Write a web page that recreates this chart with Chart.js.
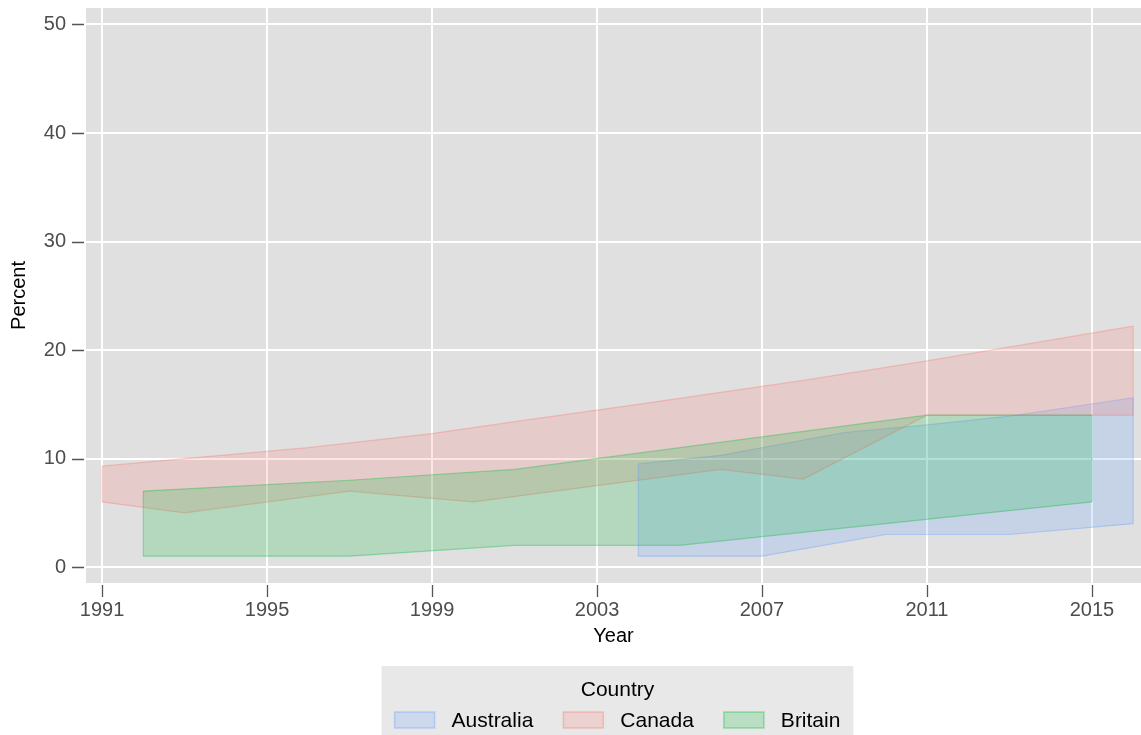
<!DOCTYPE html>
<html>
<head>
<meta charset="utf-8">
<script src="https://cdn.jsdelivr.net/npm/chart.js@4/dist/chart.umd.min.js"></script>
<style>
  html, body { margin: 0; padding: 0; background: #fff; }
  #wrap { width: 1141px; height: 735px; position: relative; }
</style>
</head>
<body>
<div id="wrap"><canvas id="chart"></canvas></div>
<script>
/* Country ranges of percent by year: ribbon (lower/upper) per country */

const xTicks = [1991, 1995, 1999, 2003, 2007, 2011, 2015];
const yTicks = [0, 10, 20, 30, 40, 50];

const countries = ["Australia", "Canada", "Britain"];
const colors = ["97, 156, 255", "248, 118, 109", "0, 186, 56"];

const ausLowYears = [2004, 2007, 2010, 2013, 2016];
const ausLow = [1.0, 1.0, 3.0, 3.0, 4.0];
const ausHighYears = [2004, 2006, 2009, 2011, 2013, 2016];
const ausHigh = [9.5, 10.3, 12.4, 13.1, 13.9, 15.6];

const canLowYears = [1991, 1993, 1997, 2000, 2006, 2008, 2011, 2016];
const canLow = [6.0, 5.0, 7.0, 6.0, 9.0, 8.1, 14.0, 14.0];
const canHighYears = [1991, 1993, 1996, 1999, 2001, 2004, 2008, 2011, 2016];
const canHigh = [9.3, 10.0, 11.0, 12.3, 13.4, 15.0, 17.2, 19.0, 22.2];

const gbLowYears = [1992, 1997, 2001, 2005, 2015];
const gbLow = [1.0, 1.0, 2.0, 2.0, 6.0];
const gbHighYears = [1992, 1997, 2001, 2011, 2015];
const gbHigh = [7.0, 8.0, 9.0, 14.0, 14.0];

const FONT = "'Liberation Sans', Arial, Helvetica, sans-serif";
Chart.defaults.font.family = FONT;

const pts = (xs, ys) => xs.map((x, i) => ({ x, y: ys[i] }));
const fillC = (c) => `rgba(${c}, 0.2)`;
const lineC = (c) => `rgba(${c}, 0.35)`;

function band(name, c, lowX, low, highX, high) {
  const base = { type: "line", pointRadius: 0, pointHoverRadius: 0, borderWidth: 1.2, tension: 0, borderColor: lineC(c) };
  return [
    { ...base, label: name + " low", data: pts(lowX, low), fill: false, band: name },
    { ...base, label: name, data: pts(highX, high), fill: "-1", backgroundColor: fillC(c), band: name },
  ];
}

// Britain first so it ends up on top (Chart.js draws index 0 last)
const datasets = [
  ...band("Britain", colors[2], gbLowYears, gbLow, gbHighYears, gbHigh),
  ...band("Canada", colors[1], canLowYears, canLow, canHighYears, canHigh),
  ...band("Australia", colors[0], ausLowYears, ausLow, ausHighYears, ausHigh),
];

// grey panel behind the plot
const panelPlugin = {
  id: "panel",
  beforeDraw(chart) {
    const { ctx, chartArea: a } = chart;
    ctx.save();
    ctx.fillStyle = "#e0e0e0";
    ctx.fillRect(a.left, a.top, a.right - a.left, a.bottom - a.top);
    ctx.restore();
  },
};

// tick marks sit slightly off the panel edge
const tickMarkPlugin = {
  id: "tickMarks",
  afterDraw(chart) {
    const { ctx, chartArea: a, scales } = chart;
    ctx.save();
    ctx.strokeStyle = "#555";
    ctx.lineWidth = 1.3;
    ctx.beginPath();
    xTicks.forEach((v) => {
      const px = Math.round(scales.x.getPixelForValue(v)) + 0.5;
      ctx.moveTo(px, a.bottom + 2);
      ctx.lineTo(px, a.bottom + 14);
    });
    yTicks.forEach((v) => {
      const py = Math.round(scales.y.getPixelForValue(v)) + 0.5;
      ctx.moveTo(a.left - 2, py);
      ctx.lineTo(a.left - 14, py);
    });
    ctx.stroke();
    ctx.restore();
  },
};

// close ribbon ends with vertical edges
const ribbonEdgePlugin = {
  id: "ribbonEdges",
  afterDatasetsDraw(chart) {
    const ctx = chart.ctx;
    ctx.save();
    for (let i = 0; i < chart.data.datasets.length; i += 2) {
      const lo = chart.getDatasetMeta(i).data;
      const hi = chart.getDatasetMeta(i + 1).data;
      ctx.strokeStyle = chart.data.datasets[i].borderColor;
      ctx.lineWidth = 1.2;
      ctx.beginPath();
      ctx.moveTo(lo[0].x, lo[0].y);
      ctx.lineTo(hi[0].x, hi[0].y);
      ctx.moveTo(lo[lo.length - 1].x, lo[lo.length - 1].y);
      ctx.lineTo(hi[hi.length - 1].x, hi[hi.length - 1].y);
      ctx.stroke();
    }
    ctx.restore();
  },
};

// ggplot-style legend box under the plot
const legendPlugin = {
  id: "countryLegend",
  afterDraw(chart) {
    const { ctx, chartArea: a } = chart;
    ctx.save();
    ctx.font = `21px ${FONT}`;
    const sw = 40, sh = 16, gapText = 17, gapItem = 30, pad = 13;
    const widths = countries.map((n) => ctx.measureText(n).width);
    const inner = widths.reduce((s, w) => s + sw + gapText + w, 0) + gapItem * (countries.length - 1);
    const cx = (a.left + a.right) / 2 + 4;
    const boxL = cx - inner / 2 - pad;
    ctx.fillStyle = "#e8e8e8";
    ctx.fillRect(boxL, 666, inner + pad * 2, 80);

    ctx.fillStyle = "#000";
    ctx.textAlign = "center";
    ctx.textBaseline = "middle";
    ctx.fillText("Country", cx, 690);

    let x = boxL + pad;
    const yc = 720;
    countries.forEach((n, i) => {
      ctx.fillStyle = fillC(colors[i]);
      ctx.fillRect(x, yc - sh / 2, sw, sh);
      ctx.strokeStyle = lineC(colors[i]);
      ctx.lineWidth = 1.5;
      ctx.strokeRect(x, yc - sh / 2, sw, sh);
      ctx.fillStyle = "#000";
      ctx.textAlign = "left";
      ctx.fillText(n, x + sw + gapText, yc + 1);
      x += sw + gapText + widths[i] + gapItem;
    });
    ctx.restore();
  },
};

new Chart(document.getElementById("chart"), {
  type: "line",
  data: { datasets },
  options: {
    responsive: true,
    maintainAspectRatio: false,
    animation: false,
    layout: { padding: { left: 0, right: 0, top: 8, bottom: 85 } },
    plugins: {
      legend: { display: false },
      tooltip: { enabled: false },
    },
    scales: {
      x: {
        type: "linear",
        min: 1990.61,
        max: 2016.19,
        afterBuildTicks: (s) => { s.ticks = xTicks.map((v) => ({ value: v })); },
        afterFit: (s) => { s.height = 67; s.paddingLeft = 0; s.paddingRight = 0; },
        ticks: { color: "#4d4d4d", font: { size: 20 }, padding: 15, maxRotation: 0, autoSkip: false, callback: (v) => String(v) },
        grid: { color: "#ffffff", lineWidth: 2, drawTicks: false },
        border: { display: false },
        title: { display: true, text: "Year", color: "#000", font: { size: 20 }, padding: { top: 0, bottom: 2 } },
      },
      y: {
        type: "linear",
        min: -1.47,
        max: 51.52,
        afterBuildTicks: (s) => { s.ticks = yTicks.map((v) => ({ value: v })); },
        afterFit: (s) => { s.width = 86; s.paddingTop = 0; s.paddingBottom = 0; },
        ticks: { color: "#4d4d4d", font: { size: 20 }, padding: 20, callback: (v) => String(v) },
        grid: { color: "#ffffff", lineWidth: 2, drawTicks: false },
        border: { display: false },
        title: { display: true, text: "Percent", color: "#000", font: { size: 20 }, padding: { top: 7, bottom: 0 } },
      },
    },
  },
  plugins: [panelPlugin, ribbonEdgePlugin, tickMarkPlugin, legendPlugin],
});
</script>
</body>
</html>
